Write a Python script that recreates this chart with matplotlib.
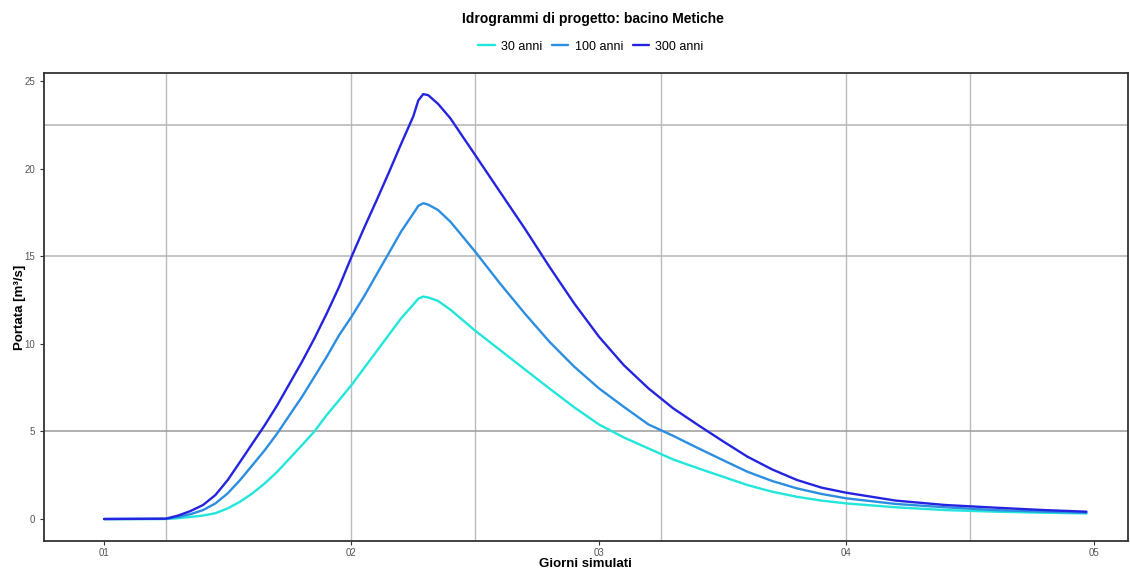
import matplotlib.pyplot as plt
import numpy as np

plt.rcParams['font.family'] = ['Liberation Sans', 'DejaVu Sans']

# giorni simulati e portate [m3/s] per i tre tempi di ritorno
giorni = [1.0, 1.25, 1.3, 1.35, 1.4, 1.45, 1.5, 1.55, 1.6, 1.65, 1.7, 1.75, 1.8, 1.85,
          1.9, 1.95, 2.0, 2.05, 2.1, 2.15, 2.2, 2.25, 2.27, 2.29, 2.31, 2.35, 2.4, 2.45,
          2.5, 2.6, 2.7, 2.8, 2.9, 3.0, 3.1, 3.2, 3.3, 3.4, 3.5, 3.6, 3.7, 3.8, 3.9,
          4.0, 4.2, 4.4, 4.6, 4.8, 4.97]

q30 = [0, 0, 0.05, 0.12, 0.2, 0.33, 0.61, 0.99, 1.47, 2.04, 2.7, 3.46, 4.22, 5.0,
       5.94, 6.79, 7.65, 8.6, 9.55, 10.5, 11.45, 12.25, 12.58, 12.7, 12.65, 12.45, 11.95, 11.35,
       10.75, 9.65, 8.55, 7.45, 6.38, 5.4, 4.66, 4.03, 3.4, 2.9, 2.42, 1.94, 1.56, 1.27, 1.05,
       0.89, 0.67, 0.51, 0.42, 0.36, 0.32]

q100 = [0, 0.01, 0.12, 0.28, 0.51, 0.89, 1.47, 2.23, 3.08, 3.94, 4.89, 5.94, 6.98, 8.12,
        9.27, 10.5, 11.55, 12.69, 13.93, 15.16, 16.4, 17.45, 17.88, 18.03, 17.95, 17.64, 16.97, 16.12,
        15.26, 13.45, 11.74, 10.12, 8.7, 7.46, 6.41, 5.4, 4.75, 4.05, 3.37, 2.7, 2.17, 1.75, 1.43,
        1.18, 0.86, 0.67, 0.51, 0.42, 0.36]

q300 = [0, 0.02, 0.2, 0.46, 0.8, 1.37, 2.23, 3.27, 4.32, 5.37, 6.5, 7.74, 8.98, 10.31,
        11.74, 13.26, 14.97, 16.59, 18.15, 19.75, 21.4, 23.0, 23.9, 24.26, 24.2, 23.7, 22.87, 21.82,
        20.78, 18.68, 16.59, 14.4, 12.31, 10.41, 8.79, 7.46, 6.32, 5.37, 4.45, 3.56, 2.83, 2.23, 1.79,
        1.5, 1.05, 0.8, 0.65, 0.51, 0.42]

serie = ['30 anni', '100 anni', '300 anni']
colori = ['#22e6dc', '#2b8ee0', '#2424e0']

xtick_pos = [1, 2, 3, 4, 5]
xtick_lab = ['01', '02', '03', '04', '05']
ytick_pos = [0, 5, 10, 15, 20, 25]

# linee della griglia
vgrid = [1.25, 2.0, 2.5, 3.25, 4.0, 4.5]
hgrid = [5, 15, 22.5]

fig = plt.figure(figsize=(11.3, 5.71), dpi=100)
ax = fig.add_axes([0.039, 0.0525, 0.959, 0.8195])

for g in vgrid:
    ax.axvline(g, color='#bcbcbc', lw=1.0, zorder=0)
for g in hgrid:
    ax.axhline(g, color='#b4b4b4' if g != 5 else '#9a9a9a', lw=1.1, zorder=0)

for q, nome, c in zip([q30, q100, q300], serie, colori):
    ax.plot(giorni, q, color=c, lw=1.7, label=nome, solid_capstyle='round',
            solid_joinstyle='round')

ax.set_xlim(0.7576, 5.137)
ax.set_ylim(-1.256, 25.46)
ax.set_xticks(xtick_pos)
ax.set_xticklabels(xtick_lab)
ax.set_yticks(ytick_pos)
ax.tick_params(axis='both', labelsize=7, colors='#333333', labelcolor='#555555',
               length=3, width=0.8)
ax.tick_params(axis='x', pad=2)
for s in ax.spines.values():
    s.set_color('#333333')
    s.set_linewidth(1.3)

ax.set_xlabel('Giorni simulati', fontsize=9.5, fontweight='bold', va='center')
ax.xaxis.set_label_coords(0.5, -0.05)
ax.set_ylabel('Portata [m³/s]', fontsize=9.5, fontweight='bold', va='center')
ax.yaxis.set_label_coords(-0.022, 0.5)

fig.text(0.525, 0.966, 'Idrogrammi di progetto: bacino Metiche', ha='center', va='center',
         fontsize=10, fontweight='bold')
fig.legend(loc='center', bbox_to_anchor=(0.523, 0.918), ncol=3, frameon=False,
           fontsize=9, handlelength=1.3, handletextpad=0.5, columnspacing=0.8)

plt.savefig('out.png', dpi=100)
